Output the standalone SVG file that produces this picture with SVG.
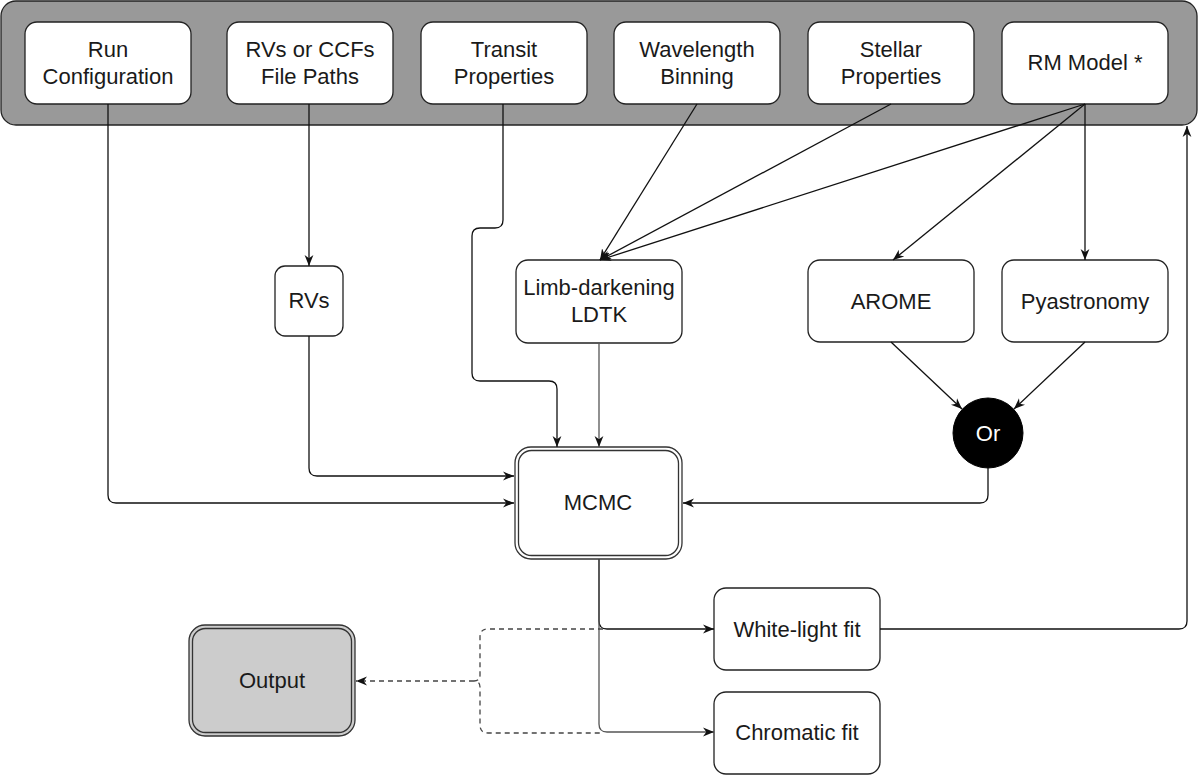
<svg xmlns="http://www.w3.org/2000/svg" width="1200" height="777" viewBox="0 0 1200 777">
<style>
.box{fill:#ffffff;stroke:#222222;stroke-width:1.3}
.t{font-family:"Liberation Sans",Arial,sans-serif;font-size:22px;fill:#1a1a1a;text-anchor:middle}
.c{fill:none;stroke:#111111;stroke-width:1.3}
.g{fill:none;stroke:#555555;stroke-width:1.3}
.d{fill:none;stroke:#444444;stroke-width:1.3;stroke-dasharray:5 4}
</style>
<defs>
<marker id="a" viewBox="0 0 10 10" refX="10" refY="5" markerWidth="11" markerHeight="11" markerUnits="userSpaceOnUse" orient="auto">
<path d="M0,1 L10,5 L0,9 L3,5 z" fill="#111111"/>
</marker>
</defs>
<g id="container">
<rect x="1" y="1" width="1196" height="124" rx="15" fill="#999999" stroke="#222222" stroke-width="1.3"/>
</g>
<g id="run-configuration">
<rect class="box" x="25" y="22" width="166" height="82" rx="12"/>
<text class="t" x="108" y="57">Run</text>
<text class="t" x="108" y="84">Configuration</text>
</g>
<g id="file-paths">
<rect class="box" x="227" y="22" width="166" height="82" rx="12"/>
<text class="t" x="310" y="57">RVs or CCFs</text>
<text class="t" x="310" y="84">File Paths</text>
</g>
<g id="transit-properties">
<rect class="box" x="421" y="22" width="166" height="82" rx="12"/>
<text class="t" x="504" y="57">Transit</text>
<text class="t" x="504" y="84">Properties</text>
</g>
<g id="wavelength-binning">
<rect class="box" x="614" y="22" width="166" height="82" rx="12"/>
<text class="t" x="697" y="57">Wavelength</text>
<text class="t" x="697" y="84">Binning</text>
</g>
<g id="stellar-properties">
<rect class="box" x="808" y="22" width="166" height="82" rx="12"/>
<text class="t" x="891" y="57">Stellar</text>
<text class="t" x="891" y="84">Properties</text>
</g>
<g id="rm-model">
<rect class="box" x="1002" y="22" width="166" height="82" rx="12"/>
<text class="t" x="1085" y="70">RM Model *</text>
</g>
<g id="rvs">
<rect class="box" x="275" y="266" width="68" height="70" rx="10"/>
<text class="t" x="309" y="308">RVs</text>
</g>
<g id="limb-darkening">
<rect class="box" x="516" y="260" width="166" height="83" rx="12"/>
<text class="t" x="599" y="295">Limb-darkening</text>
<text class="t" x="599" y="322">LDTK</text>
</g>
<g id="arome">
<rect class="box" x="808" y="260" width="166" height="82" rx="12"/>
<text class="t" x="891" y="309">AROME</text>
</g>
<g id="pyastronomy">
<rect class="box" x="1002" y="260" width="166" height="82" rx="12"/>
<text class="t" x="1085" y="309">Pyastronomy</text>
</g>
<g id="or">
<circle cx="988" cy="433" r="35" fill="#000000" stroke="#000000"/>
<text class="t" x="988" y="441" style="fill:#ffffff">Or</text>
</g>
<g id="mcmc">
<rect x="515" y="447" width="167" height="112" rx="16" fill="#ffffff" stroke="#333333" stroke-width="1.3"/>
<rect x="518.5" y="450.5" width="160" height="105" rx="13" fill="none" stroke="#333333" stroke-width="1.3"/>
<text class="t" x="598" y="510">MCMC</text>
</g>
<g id="white-light-fit">
<rect class="box" x="714" y="588" width="166" height="82" rx="12"/>
<text class="t" x="797" y="637">White-light fit</text>
</g>
<g id="chromatic-fit">
<rect class="box" x="714" y="692" width="166" height="82" rx="12"/>
<text class="t" x="797" y="740">Chromatic fit</text>
</g>
<g id="output">
<rect x="189" y="625" width="166" height="111" rx="16" fill="#cccccc" stroke="#333333" stroke-width="1.3"/>
<rect x="192.5" y="628.5" width="159" height="104" rx="13" fill="none" stroke="#333333" stroke-width="1.3"/>
<text class="t" x="272" y="688">Output</text>
</g>
<g id="connectors">
<path class="c" d="M108,104 V495 Q108,503 116,503 H514" marker-end="url(#a)"/>
<path class="c" d="M309,104 V266" marker-end="url(#a)"/>
<path class="c" d="M309,336 V468 Q309,476 317,476 H514" marker-end="url(#a)"/>
<path class="c" d="M503,104 V220 Q503,228 495,228 H480 Q472,228 472,236 V373 Q472,381 480,381 H549 Q557,381 557,389 V447" marker-end="url(#a)"/>
<path class="g" d="M599,343 V447" marker-end="url(#a)"/>
<path class="c" d="M697,104 L600,260" marker-end="url(#a)"/>
<path class="c" d="M891,104 L600,260" marker-end="url(#a)"/>
<path class="c" d="M1085,104 L600,260" marker-end="url(#a)"/>
<path class="c" d="M1085,104 L893,260" marker-end="url(#a)"/>
<path class="c" d="M1085,104 V260" marker-end="url(#a)"/>
<path class="c" d="M891,342 L962,409" marker-end="url(#a)"/>
<path class="c" d="M1085,342 L1014,409" marker-end="url(#a)"/>
<path class="c" d="M988,468 V495 Q988,503 980,503 H683" marker-end="url(#a)"/>
<path class="c" d="M599,559 V621 Q599,629 607,629 H714" marker-end="url(#a)"/>
<path class="g" d="M599,559 V724 Q599,732 607,732 H714" marker-end="url(#a)"/>
<path class="c" d="M880,629 H1179 Q1187,629 1187,621 V126" marker-end="url(#a)"/>
<path class="d" d="M603,629 H488 Q480,629 480,637 V675 Q480,681 474,681 Q480,681 480,687 V725 Q480,733 488,733 H603"/>
<path class="d" d="M474,681 H356" marker-end="url(#a)"/>
</g>
</svg>
